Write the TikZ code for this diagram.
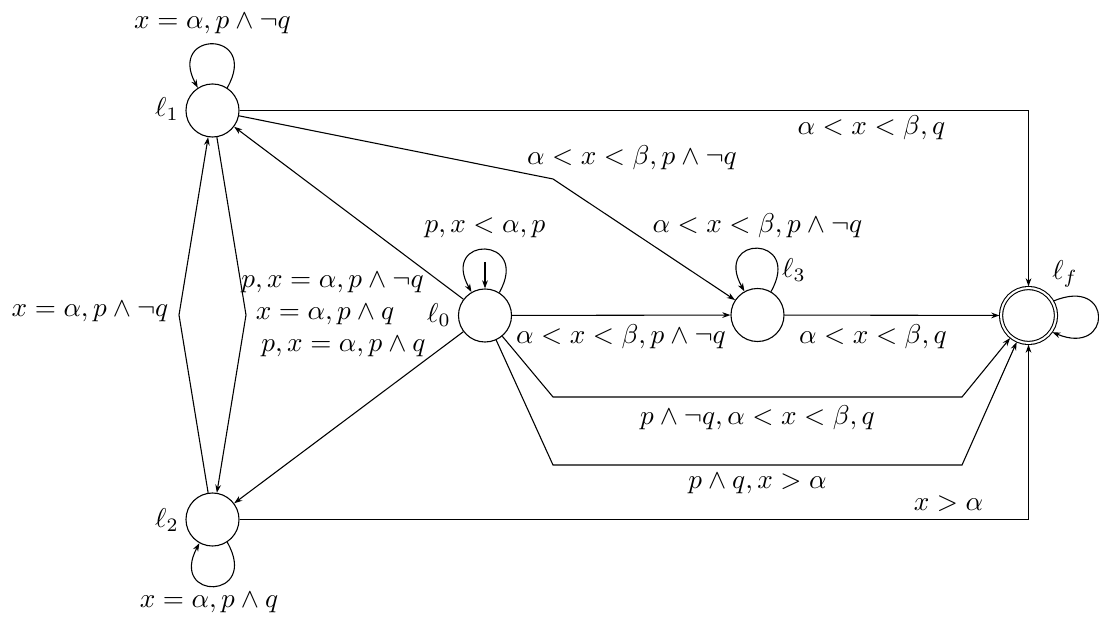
\documentclass[tikz,border=0pt]{standalone}
\usetikzlibrary{arrows.meta}
\begin{document}
\begin{tikzpicture}[x=0.3676pt,y=-0.3676pt,
  >={Stealth[length=3pt,width=2.1pt]},
  stnode/.style={circle,draw,minimum size=19.5pt,inner sep=0pt},
  acceptnode/.style={stnode,double,double distance=0.75pt,minimum size=20.2pt,outer sep=0.6pt},
  edgelab/.style={anchor=base,inner sep=0pt},
  statename/.style={inner sep=0pt}]
\useasboundingbox (0,0) rectangle (1099,622);

% states
\node[stnode] (l1) at (212.5,110.5) {};
\node[stnode] (l2) at (212.5,519.5) {};
\node[stnode] (l0) at (485,315.5) {};
\node[stnode] (l3) at (757.5,315) {};
\node[acceptnode] (lf) at (1028.5,315.5) {};

% state names
\node[statename] (n1) at (167,109) {$\ell_1$};
\node[statename] (n2) at (167,520) {$\ell_2$};
\node[statename] (n0) at (439,315) {$\ell_0$};
\node[statename] (n3) at (794,270) {$\ell_3$};
\node[statename] (nf) at (1065,274) {$\ell_f$};

% bend points
\coordinate (b13) at (553,179);
\coordinate (bR) at (246,315);
\coordinate (bL) at (179,315);
\coordinate (c1) at (553,397);
\coordinate (c2) at (962,397);
\coordinate (c3) at (553,465);
\coordinate (c4) at (962,465);
\coordinate (i0) at (485,262);

% edges
\draw[->] (l1) -| (lf);
\draw[->] (l2) -| (lf);
\draw[->] (l1) -- (b13) -- (l3);
\draw[->] (l0) -- (l1);
\draw[->] (l0) -- (l2);
\draw[->] (l0) -- (l3);
\draw[->] (l3) -- (lf);
\draw[->] (l0) -- (c1) -- (c2) -- (lf);
\draw[->] (l0) -- (c3) -- (c4) -- (lf);
\draw[->] (l1) -- (bR) -- (l2);
\draw[->] (l2) -- (bL) -- (l1);
\draw[->] (i0) -- (l0);

% loops
\draw[->] (l1.57) .. controls +(33,-58) and +(-31,-58) .. (l1.123);
\draw[->] (l2.-57) .. controls +(33,58) and +(-31,58) .. (l2.-119);
\draw[->] (l0.58) .. controls +(32,-57) and +(-32,-57) .. (l0.120);
\draw[->] (l3.60) .. controls +(32,-57) and +(-32,-57) .. (l3.119);
\draw[->] (lf.30) .. controls +(60,-25) and +(60,25) .. (lf.-35);

% labels
\node[edgelab] (t1) at (212.5,29) {$x=\alpha,p\land\neg q$};
\node[edgelab] (t2) at (209,607) {$x=\alpha,p\land q$};
\node[edgelab] (t0) at (485,233) {$p,x<\alpha,p$};
\node[edgelab] (t3) at (757.5,233) {$\alpha<x<\beta,p\land\neg q$};
\node[edgelab] (t13) at (632,165) {$\alpha<x<\beta,p\land\neg q$};
\node[edgelab] (t1f) at (871.5,135) {$\alpha<x<\beta,q$};
\node[edgelab] (t01) at (332.5,288) {$p,x=\alpha,p\land\neg q$};
\node[edgelab] (t12) at (325,320) {$x=\alpha,p\land q$};
\node[edgelab] (t02) at (343.5,352) {$p,x=\alpha,p\land q$};
\node[edgelab] (t21) at (90,317) {$x=\alpha,p\land\neg q$};
\node[edgelab] (t03) at (621,344) {$\alpha<x<\beta,p\land\neg q$};
\node[edgelab] (t3f) at (873,344) {$\alpha<x<\beta,q$};
\node[edgelab] (t0fa) at (757.5,424) {$p\land\neg q,\alpha<x<\beta,q$};
\node[edgelab] (t0fb) at (757.5,488) {$p\land q,x>\alpha$};
\node[edgelab] (t2f) at (948.5,510) {$x>\alpha$};
\end{tikzpicture}
\end{document}
